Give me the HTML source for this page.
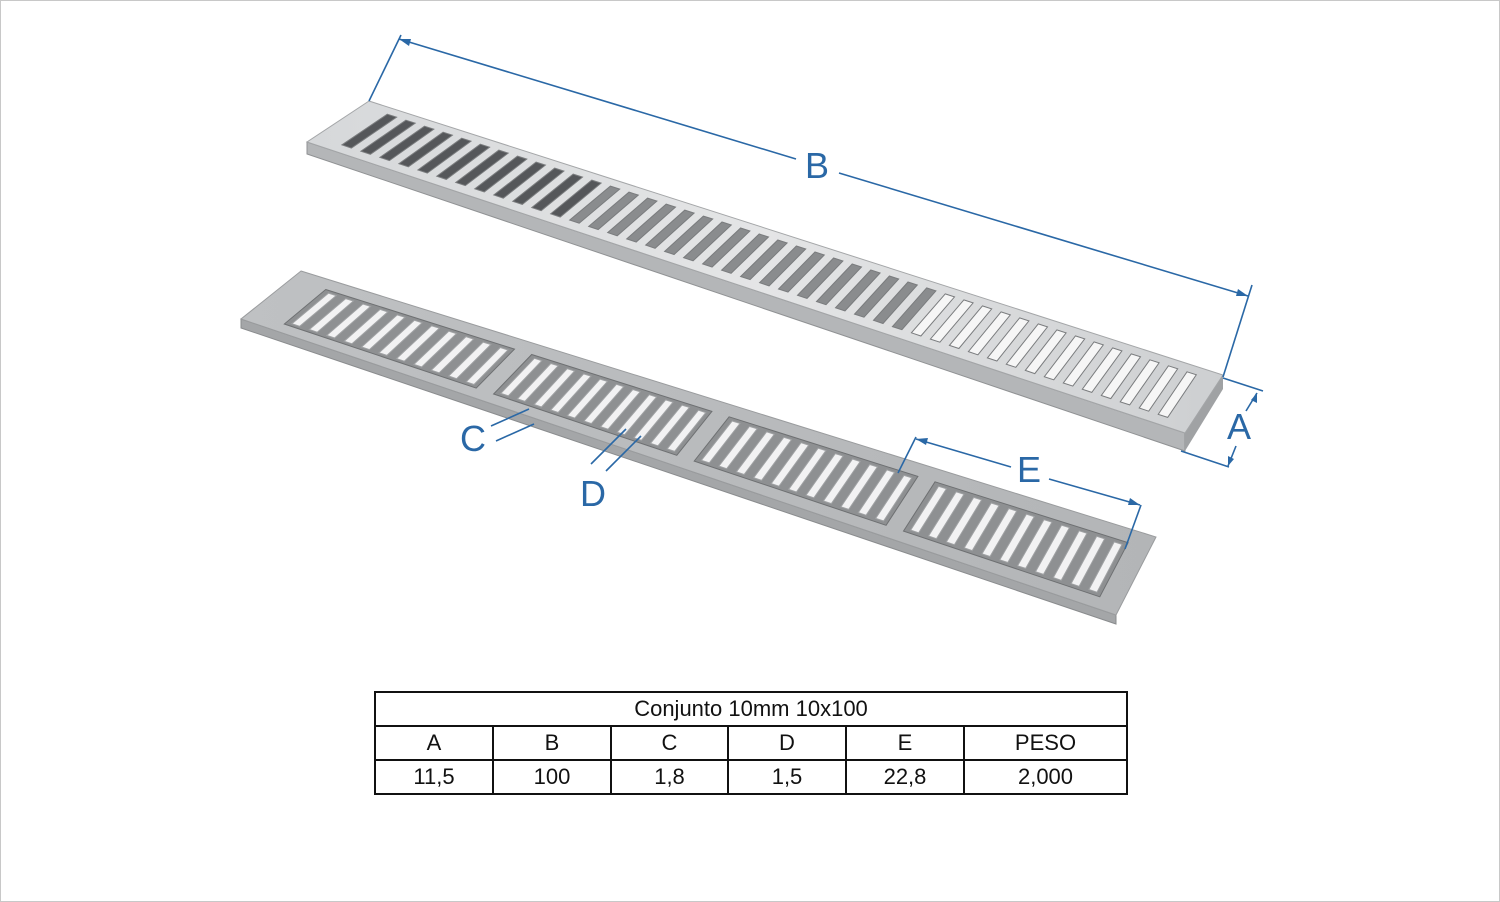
<!DOCTYPE html>
<html><head><meta charset="utf-8">
<style>
html,body{margin:0;padding:0;background:#fff;}
#wrap{position:relative;width:1498px;height:900px;border:1px solid #c8c8c8;overflow:hidden;background:#fff;}
svg{position:absolute;left:0;top:0;}
table{position:absolute;left:373px;top:690px;border-collapse:collapse;font-family:"Liberation Sans",sans-serif;font-size:22px;color:#111;}
td{border:2px solid #111;text-align:center;height:32px;padding:0;}
</style></head><body>
<div id="wrap">
<svg id="s" width="1500" height="902" viewBox="0 0 1500 902" xmlns="http://www.w3.org/2000/svg">
<defs>
<linearGradient id="g1" x1="0" y1="0" x2="1" y2="0">
<stop offset="0" stop-color="#d6d8da"/><stop offset="0.5" stop-color="#e4e5e6"/><stop offset="1" stop-color="#cdcfd1"/></linearGradient>
<linearGradient id="g2" x1="0" y1="0" x2="1" y2="0">
<stop offset="0" stop-color="#bfc1c3"/><stop offset="1" stop-color="#b3b5b7"/></linearGradient>
</defs>
<g id="top"></g>
<g id="bot"></g>
<g stroke="#2a68a6" stroke-width="1.6" fill="none">
<line x1="368" y1="100" x2="400" y2="34"/>
<line x1="1222" y1="376" x2="1251" y2="284"/>
<line x1="398" y1="38" x2="795" y2="158"/>
<line x1="838" y1="172" x2="1247" y2="295"/>
<line x1="1222" y1="377" x2="1262" y2="390"/>
<line x1="1180" y1="450" x2="1228" y2="466"/>
<line x1="1256" y1="392" x2="1245" y2="410"/>
<line x1="1235" y1="445" x2="1227" y2="465"/>
<line x1="915" y1="436" x2="897" y2="472"/>
<line x1="1140" y1="504" x2="1124" y2="548"/>
<line x1="915" y1="438" x2="1010" y2="466"/>
<line x1="1048" y1="478" x2="1139" y2="504"/>
<line x1="490" y1="425" x2="528" y2="408"/>
<line x1="495" y1="440" x2="533" y2="423"/>
<line x1="590" y1="463" x2="625" y2="428"/>
<line x1="605" y1="470" x2="640" y2="435"/>
</g>
<g fill="#2a68a6">
<polygon points="398,38 410,38 408,45"/>
<polygon points="1247,295 1235,295 1237,288"/>
<polygon points="915,438 927,437 925,444"/>
<polygon points="1139,504 1127,504 1129,497"/>
<polygon points="1256,392 1256,402 1250,399"/>
<polygon points="1227,465 1227,455 1233,458"/>
</g>
<g font-family="Liberation Sans, sans-serif" font-size="36" fill="#2a68a6">
<text x="804" y="177">B</text>
<text x="1226" y="438">A</text>
<text x="1016" y="481">E</text>
<text x="459" y="450">C</text>
<text x="579" y="505">D</text>
</g>
</svg>
<table>
<tr><td colspan="6" style="width:748px">Conjunto 10mm 10x100</td></tr>
<tr><td style="width:116px">A</td><td style="width:116px">B</td><td style="width:115px">C</td><td style="width:116px">D</td><td style="width:116px">E</td><td style="width:161px">PESO</td></tr>
<tr><td>11,5</td><td>100</td><td>1,8</td><td>1,5</td><td>22,8</td><td>2,000</td></tr>
</table>
</div>
<script>
var NS="http://www.w3.org/2000/svg";
function poly(g,pts,fill,stroke){var p=document.createElementNS(NS,"polygon");p.setAttribute("points",pts.map(function(a){return a[0].toFixed(1)+","+a[1].toFixed(1)}).join(" "));p.setAttribute("fill",fill);if(stroke){p.setAttribute("stroke",stroke);p.setAttribute("stroke-width","1");}g.appendChild(p);}
function mk(BL,BR,aL,aR){return function(u,v){var ax=aL[0]+u*(aR[0]-aL[0]),ay=aL[1]+u*(aR[1]-aL[1]);return [BL[0]+u*(BR[0]-BL[0])+v*ax,BL[1]+u*(BR[1]-BL[1])+v*ay];};}
var t=document.getElementById("top");
var P=mk([368,100],[1222,374],[-62,41],[-38,58]);
var FL=P(0,1),FR=P(1,1),BR=P(1,0),BL=P(0,0);
var tL=12,tR=18;
poly(t,[FL,FR,[FR[0],FR[1]+tR],[FL[0],FL[1]+tL]],"#b4b6b8","#909294");
poly(t,[BR,FR,[FR[0],FR[1]+tR],[BR[0],BR[1]+tR-4]],"#a0a2a4");
poly(t,[BL,BR,FR,FL],"url(#g1)","#a4a6a8");
var n=44;
for(var i=0;i<n;i++){var pitch=0.955/n,u0=0.03+i*pitch,u1=u0+pitch*0.5;
var c=i<12?"#55575a":(i<30?"#8a8c8e":"#f6f6f6");
poly(t,[P(u0,0.12),P(u1,0.12),P(u1,0.86),P(u0,0.86)],c,"#7a7c7e");}
var b=document.getElementById("bot");
var Q=mk([300,270],[1155,536],[-60,48],[-40,78]);
var BL2=Q(0,0),BR2=Q(1,0),FL2=Q(0,1),FR2=Q(1,1);
poly(b,[FL2,FR2,[FR2[0],FR2[1]+9],[FL2[0],FL2[1]+9]],"#a4a6a8","#8a8c8e");
poly(b,[BL2,BR2,FR2,FL2],"url(#g2)","#9a9c9e");
var pans=[[0.04,0.26],[0.28,0.49],[0.51,0.73],[0.75,0.975]];
pans.forEach(function(r){
poly(b,[Q(r[0],0.16),Q(r[1],0.16),Q(r[1],0.86),Q(r[0],0.86)],"#8e9092","#6e7072");
var m=11,w=(r[1]-r[0])/m;
for(var k=0;k<m;k++){var a=r[0]+k*w+w*0.3,c2=a+w*0.45;
poly(b,[Q(a,0.2),Q(c2,0.2),Q(c2,0.82),Q(a,0.82)],"#f2f2f3","#a0a2a4");}
});
</script>
</body></html>
